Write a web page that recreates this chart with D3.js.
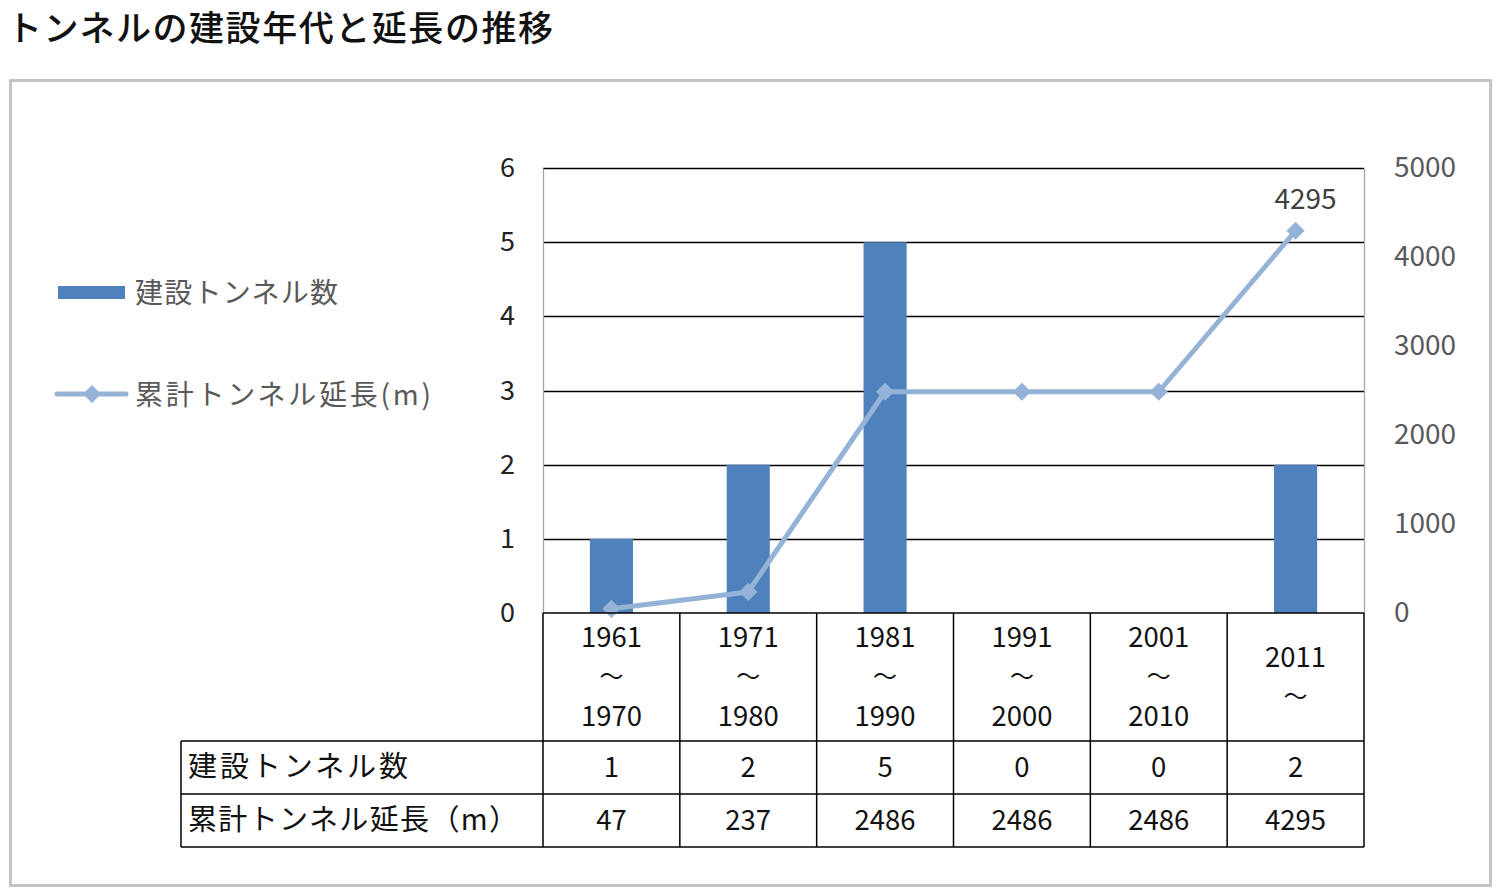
<!DOCTYPE html>
<html><head><meta charset="utf-8">
<script src="https://cdn.jsdelivr.net/npm/d3@7"></script>
<style>
html,body{margin:0;padding:0;background:#fff;}
text{font-family:"Noto Sans CJK JP","Noto Sans",sans-serif;}
</style></head>
<body>
<svg id="chart" width="1500" height="894"></svg>
<script>
const title = "トンネルの建設年代と延長の推移";
const periodStart = ["1961","1971","1981","1991","2001","2011"];
const periodEnd = ["1970","1980","1990","2000","2010",""];
const tunnelCounts = [1,2,5,0,0,2];
const cumulativeLength = [47,237,2486,2486,2486,4295];
const leftTicks = [0,1,2,3,4,5,6];
const rightTicks = [0,1000,2000,3000,4000,5000];
const seriesNames = ["建設トンネル数","累計トンネル延長(m)"];
const tableRowNames = ["建設トンネル数","累計トンネル延長（m）"];

const svg = d3.select("#chart");
const barColor = "#4f81bd", lineColor = "#95b3d7";

svg.append("text").attr("x",7).attr("y",41).attr("font-size",35).attr("font-weight",500)
  .attr("fill","#111").attr("textLength",546).text(title);
svg.append("rect").attr("x",10.5).attr("y",80.5).attr("width",1480).attr("height",805)
  .attr("fill","none").attr("stroke","#c4c4c4").attr("stroke-width",3);

const L=543, R=1364, T=168, B=613;
const x = d3.scaleBand().domain(periodStart).range([L,R]).padding(0);
const yL = d3.scaleLinear().domain([0,6]).range([B,T]);
const yR = d3.scaleLinear().domain([0,5000]).range([B,T]);

// gridlines
svg.append("g").selectAll("line").data(leftTicks.filter(d=>d>0)).join("line")
  .attr("x1",L).attr("x2",R).attr("y1",d=>Math.round(yL(d))+0.5).attr("y2",d=>Math.round(yL(d))+0.5)
  .attr("stroke","#000").attr("stroke-width",1.3);
// left axis
const gl = svg.append("g").attr("transform",`translate(${L},0)`)
  .call(d3.axisLeft(yL).tickValues(leftTicks).tickFormat(d3.format("d")).tickSize(0).tickPadding(28));
gl.select(".domain").attr("stroke","#a6a6a6").attr("stroke-width",1.3);
gl.selectAll("text").attr("font-size",27).attr("fill","#222").attr("font-family",null);
// right axis
const gr = svg.append("g").attr("transform",`translate(${R},0)`)
  .call(d3.axisRight(yR).tickValues(rightTicks).tickFormat(d3.format("d")).tickSize(0).tickPadding(30));
gr.select(".domain").attr("stroke","#a6a6a6").attr("stroke-width",1.3);
gr.selectAll("text").attr("font-size",28).attr("fill","#595959").attr("font-family",null);

// bars
const bw = x.bandwidth()*0.315;
svg.append("g").selectAll("rect").data(tunnelCounts).join("rect")
  .attr("x",(d,i)=>x(periodStart[i])+x.bandwidth()/2-bw/2)
  .attr("width",bw).attr("y",d=>yL(d)).attr("height",d=>B-yL(d)).attr("fill",barColor);

// line
const line = d3.line().x((d,i)=>x(periodStart[i])+x.bandwidth()/2).y(d=>yR(d));
svg.append("path").datum(cumulativeLength).attr("d",line).attr("fill","none")
  .attr("stroke",lineColor).attr("stroke-width",5).attr("stroke-linejoin","round");
const diamond = d3.symbol().type(d3.symbolDiamond2).size(210);
svg.append("g").selectAll("path").data(cumulativeLength).join("path")
  .attr("d",diamond).attr("fill",lineColor)
  .attr("transform",(d,i)=>`translate(${x(periodStart[i])+x.bandwidth()/2},${yR(d)})`);
// data label
const li = cumulativeLength.length-1;
svg.append("text").attr("x",x(periodStart[li])+x.bandwidth()/2+10).attr("y",yR(cumulativeLength[li])-22)
  .attr("text-anchor","middle").attr("font-size",28).attr("fill","#404040").text(cumulativeLength[li]);

// data table
const TL=181, H1=741, H2=794, H3=847;
const tg = svg.append("g").attr("stroke","#000").attr("stroke-width",1.5).attr("fill","none");
const cols = periodStart.map(p=>x(p)).concat([R]);
cols.forEach(cx=>tg.append("line").attr("x1",cx).attr("x2",cx).attr("y1",B).attr("y2",H3));
tg.append("line").attr("x1",TL).attr("x2",TL).attr("y1",H1).attr("y2",H3);
[H1,H2,H3].forEach(yy=>tg.append("line").attr("x1",TL).attr("x2",R).attr("y1",yy).attr("y2",yy));
tg.append("line").attr("x1",L).attr("x2",R).attr("y1",B).attr("y2",B);

periodStart.forEach((p,i)=>{
  const cx = x(p)+x.bandwidth()/2;
  const lines = periodEnd[i] ? [p,"～",periodEnd[i]] : [p,"～"];
  const start = periodEnd[i] ? 637 : 657;
  lines.forEach((s,j)=>{
    svg.append("text").attr("x",cx).attr("y",start+j*39.5).attr("dy","0.35em")
      .attr("text-anchor","middle").attr("font-size",s==="～"?24:27.5).attr("fill","#111").text(s);
  });
  svg.append("text").attr("x",cx).attr("y",767).attr("dy","0.35em").attr("text-anchor","middle")
    .attr("font-size",27.5).attr("fill","#111").text(tunnelCounts[i]);
  svg.append("text").attr("x",cx).attr("y",820).attr("dy","0.35em").attr("text-anchor","middle")
    .attr("font-size",27.5).attr("fill","#111").text(cumulativeLength[i]);
});
svg.append("text").attr("x",188).attr("y",767).attr("dy","0.35em").attr("font-size",29)
  .attr("fill","#111").attr("textLength",220).text(tableRowNames[0]);
svg.append("text").attr("x",188).attr("y",820).attr("dy","0.35em").attr("font-size",29)
  .attr("fill","#111").attr("textLength",330).text(tableRowNames[1]);

// legend
svg.append("rect").attr("x",58).attr("y",286).attr("width",67).attr("height",13).attr("fill",barColor);
svg.append("text").attr("x",135).attr("y",293).attr("dy","0.35em").attr("font-size",28)
  .attr("fill","#595959").attr("textLength",203).text(seriesNames[0]);
svg.append("line").attr("x1",57).attr("x2",126).attr("y1",394).attr("y2",394)
  .attr("stroke",lineColor).attr("stroke-width",5).attr("stroke-linecap","round");
svg.append("path").attr("d",diamond).attr("fill",lineColor).attr("transform","translate(92,394)");
svg.append("text").attr("x",135).attr("y",395).attr("dy","0.35em").attr("font-size",28)
  .attr("fill","#595959").attr("textLength",296).text(seriesNames[1]);
</script>
</body></html>
